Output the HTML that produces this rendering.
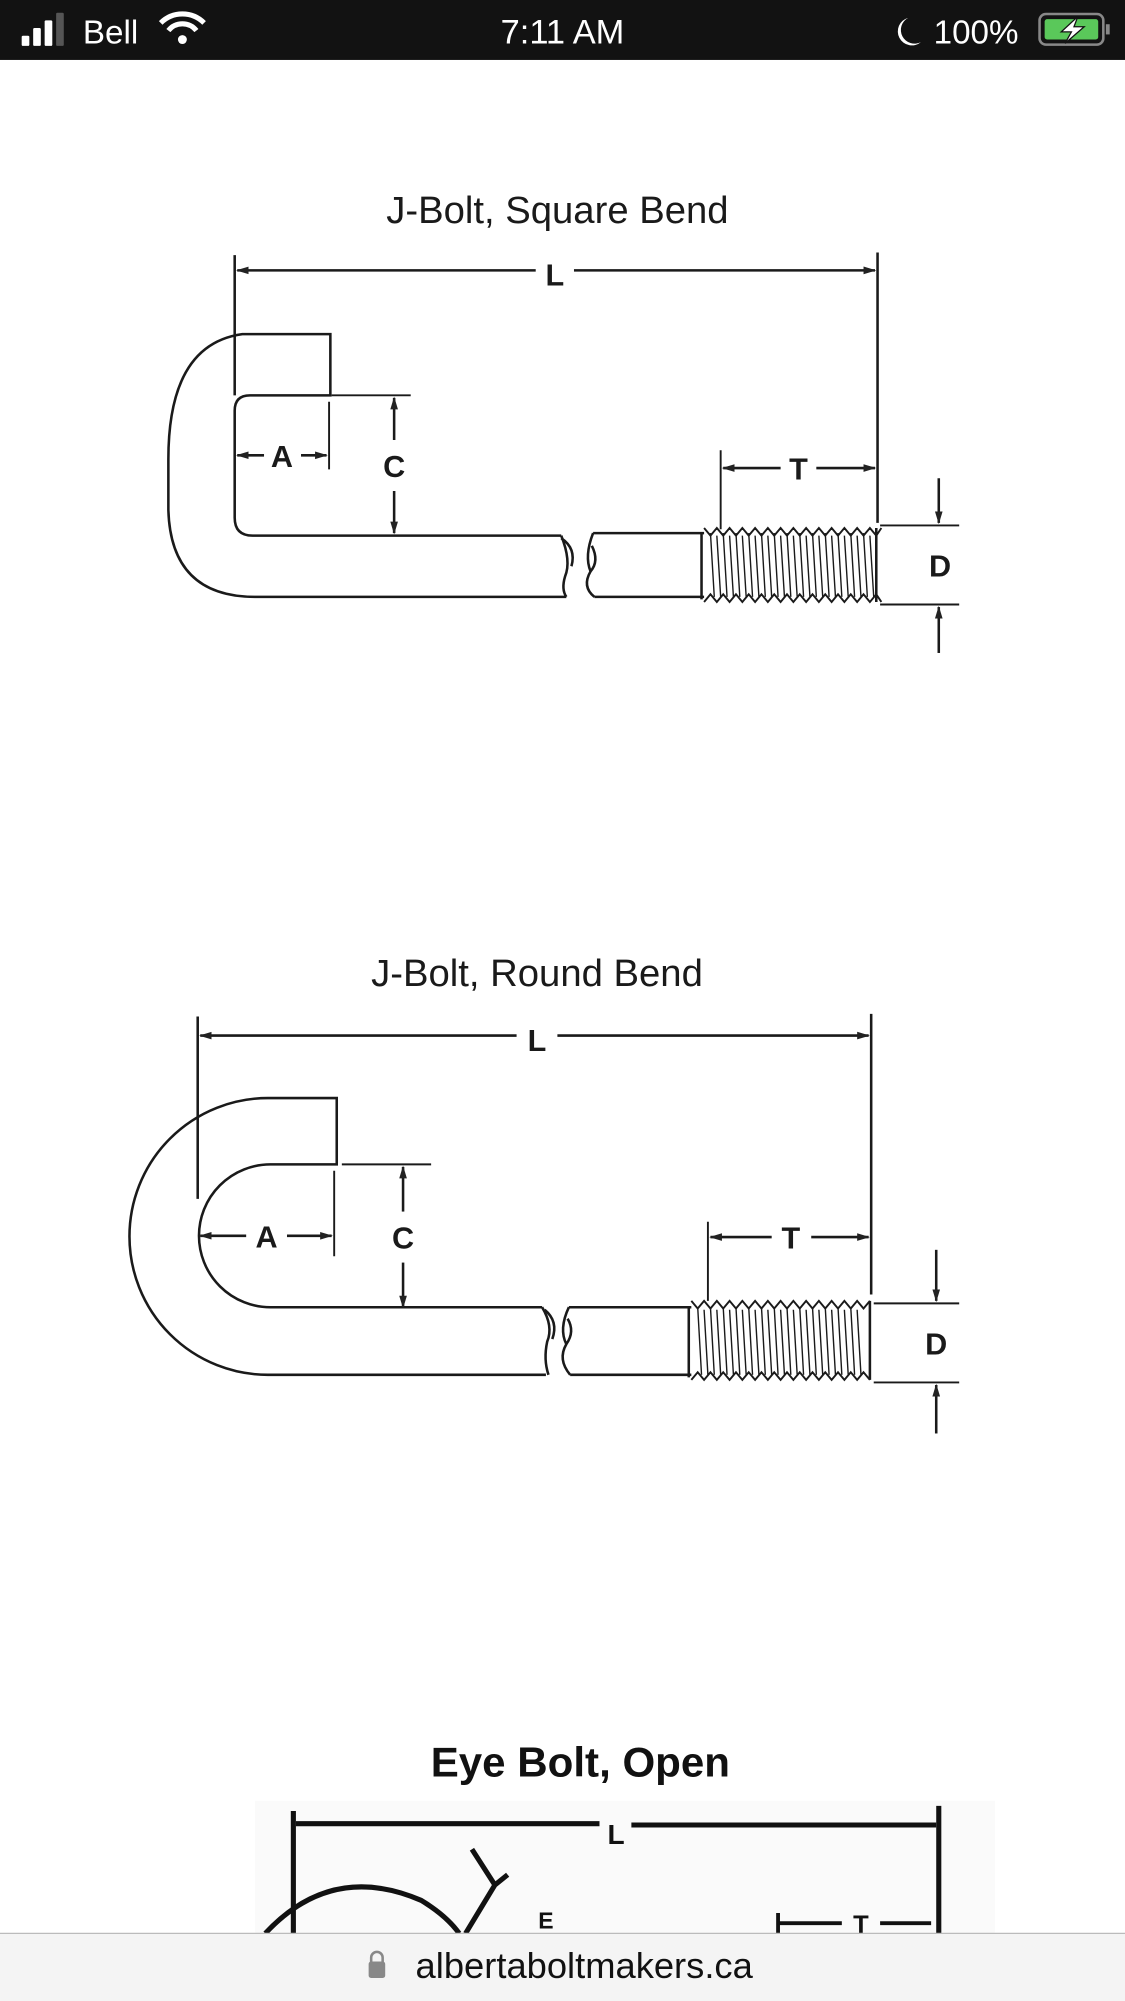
<!DOCTYPE html>
<html><head><meta charset="utf-8"><style>
html,body{margin:0;padding:0;background:#fff;width:1125px;height:2001px;overflow:hidden}
svg{display:block}
text{font-family:"Liberation Sans",sans-serif}
</style></head><body>
<svg width="1125" height="2001" viewBox="0 0 882 1569" preserveAspectRatio="none">
<defs>
<marker id="ar" markerWidth="10" markerHeight="8" refX="9" refY="4" orient="auto" markerUnits="userSpaceOnUse"><path d="M0,1 L10,4 L0,7 z" fill="#222"/></marker>
</defs>
<rect width="882" height="1569" fill="#fff"/>
<!-- status bar -->
<rect x="0" y="0" width="882" height="47" fill="#121212"/>
<rect x="17" y="28" width="6" height="8" rx="1" fill="#fff"/>
<rect x="26" y="22" width="6" height="14" rx="1" fill="#fff"/>
<rect x="35" y="16" width="6" height="20" rx="1" fill="#fff"/>
<rect x="44" y="10" width="6" height="26" rx="1" fill="#555"/>
<text x="65" y="34" font-size="26" fill="#fff">Bell</text>
<path d="M126,18 A24,24 0 0 1 160,18 M132,24 A14,14 0 0 1 154,24" stroke="#fff" stroke-width="4" fill="none"/>
<circle cx="143" cy="31" r="3.5" fill="#fff"/>
<text x="441" y="34" font-size="27" fill="#fff" text-anchor="middle">7:11 AM</text>
<path d="M712,14 A11,11 0 1 0 722,33 A10,10 0 0 1 712,14 z" fill="#fff"/>
<text x="732" y="34" font-size="26" fill="#fff">100%</text>
<rect x="815" y="11" width="50" height="24" rx="5" fill="none" stroke="#888" stroke-width="2"/>
<rect x="819" y="15" width="42" height="16" rx="2" fill="#5ac85a"/>
<rect x="867" y="19" width="3" height="8" fill="#888"/>
<path d="M845,13 L832,25 L840,25 L835,34 L850,21 L842,21 z" fill="#fff" stroke="#121212" stroke-width="1"/>

<g stroke="#1a1a1a" stroke-width="2" fill="none">
<!-- ===== Diagram 1 ===== -->
<line x1="184" y1="200" x2="184" y2="310"/>
<line x1="688" y1="198" x2="688" y2="410"/>
<line x1="420" y1="212" x2="186" y2="212" marker-end="url(#ar)"/>
<line x1="450" y1="212" x2="686" y2="212" marker-end="url(#ar)"/>
<path d="M440,420 L198,420 Q184,420 184,406 L184,322 Q184,310 196,310 L259,310 L259,262 L190,262 Q132,270 132,360 L132,400 Q134,468 200,468 L444,468"/>
<path d="M440,420 Q448,440 443,452 Q440,462 444,468"/>
<path d="M440,422 Q452,430 448,444"/>
<path d="M465,418 Q458,436 463,448 Q456,460 466,468 M463,448 Q470,440 464,428"/>
<line x1="465" y1="418" x2="552" y2="418"/>
<line x1="466" y1="468" x2="552" y2="468"/>
<path d="M550,418 L550,470"/>
<path d="M552,414 l5,6 l5,-6 l5,6 l5,-6 l5,6 l5,-6 l5,6 l5,-6 l5,6 l5,-6 l5,6 l5,-6 l5,6 l5,-6 l5,6 l5,-6 l5,6 l5,-6 l5,6 l5,-6 l5,6 l5,-6 l5,6 l5,-6 l5,6 l5,-6 l5,6 l4,-6" stroke-width="1.5"/>
<path d="M552,472 l5,-6 l5,6 l5,-6 l5,6 l5,-6 l5,6 l5,-6 l5,6 l5,-6 l5,6 l5,-6 l5,6 l5,-6 l5,6 l5,-6 l5,6 l5,-6 l5,6 l5,-6 l5,6 l5,-6 l5,6 l5,-6 l5,6 l5,-6 l5,6 l5,-6 l4,6" stroke-width="1.5"/>
<path d="M557,418 l3,50 M567,418 l3,50 M577,418 l3,50 M587,418 l3,50 M597,418 l3,50 M607,418 l3,50 M617,418 l3,50 M627,418 l3,50 M637,418 l3,50 M647,418 l3,50 M657,418 l3,50 M667,418 l3,50 M677,418 l3,50 M562,420 l3,48 M572,420 l3,48 M582,420 l3,48 M592,420 l3,48 M602,420 l3,48 M612,420 l3,48 M622,420 l3,48 M632,420 l3,48 M642,420 l3,48 M652,420 l3,48 M662,420 l3,48 M672,420 l3,48 M682,420 l3,48" stroke-width="1.1"/>
<line x1="687" y1="414" x2="687" y2="472"/>
<line x1="258" y1="315" x2="258" y2="368" stroke-width="1.5"/>
<line x1="207" y1="357" x2="186" y2="357" marker-end="url(#ar)"/>
<line x1="236" y1="357" x2="256" y2="357" marker-end="url(#ar)"/>
<line x1="260" y1="310" x2="322" y2="310" stroke-width="1.5"/>
<line x1="309" y1="345" x2="309" y2="312" marker-end="url(#ar)"/>
<line x1="309" y1="385" x2="309" y2="418" marker-end="url(#ar)"/>
<line x1="565" y1="353" x2="565" y2="415" stroke-width="1.5"/>
<line x1="612" y1="367" x2="567" y2="367" marker-end="url(#ar)"/>
<line x1="640" y1="367" x2="686" y2="367" marker-end="url(#ar)"/>
<line x1="690" y1="412" x2="752" y2="412" stroke-width="1.5"/>
<line x1="690" y1="474" x2="752" y2="474" stroke-width="1.5"/>
<line x1="736" y1="375" x2="736" y2="410" marker-end="url(#ar)"/>
<line x1="736" y1="512" x2="736" y2="476" marker-end="url(#ar)"/>

<!-- ===== Diagram 2 ===== -->
<line x1="155" y1="797" x2="155" y2="940"/>
<line x1="683" y1="795" x2="683" y2="1015"/>
<line x1="405" y1="812" x2="157" y2="812" marker-end="url(#ar)"/>
<line x1="437" y1="812" x2="681" y2="812" marker-end="url(#ar)"/>
<path d="M425,1025 L212,1025 A56,56 0 0 1 212,913 L264,913 L264,861 L210,861 A108,108 0 0 0 210,1078 L428,1078"/>
<path d="M425,1025 Q434,1040 429,1052 Q426,1066 430,1078"/>
<path d="M427,1027 Q438,1036 433,1050"/>
<path d="M446,1025 Q438,1042 444,1054 Q437,1066 447,1078 M444,1054 Q451,1044 445,1034"/>
<line x1="446" y1="1025" x2="542" y2="1025"/>
<line x1="447" y1="1078" x2="542" y2="1078"/>
<path d="M540,1025 L540,1080"/>
<path d="M542,1020 l5,6 l5,-6 l5,6 l5,-6 l5,6 l5,-6 l5,6 l5,-6 l5,6 l5,-6 l5,6 l5,-6 l5,6 l5,-6 l5,6 l5,-6 l5,6 l5,-6 l5,6 l5,-6 l5,6 l5,-6 l5,6 l5,-6 l5,6 l5,-6 l5,6 l5,-6" stroke-width="1.5"/>
<path d="M542,1082 l5,-6 l5,6 l5,-6 l5,6 l5,-6 l5,6 l5,-6 l5,6 l5,-6 l5,6 l5,-6 l5,6 l5,-6 l5,6 l5,-6 l5,6 l5,-6 l5,6 l5,-6 l5,6 l5,-6 l5,6 l5,-6 l5,6 l5,-6 l5,6 l5,-6 l5,6" stroke-width="1.5"/>
<path d="M547,1025 l3,53 M557,1025 l3,53 M567,1025 l3,53 M577,1025 l3,53 M587,1025 l3,53 M597,1025 l3,53 M607,1025 l3,53 M617,1025 l3,53 M627,1025 l3,53 M637,1025 l3,53 M647,1025 l3,53 M657,1025 l3,53 M667,1025 l3,53 M552,1027 l3,51 M562,1027 l3,51 M572,1027 l3,51 M582,1027 l3,51 M592,1027 l3,51 M602,1027 l3,51 M612,1027 l3,51 M622,1027 l3,51 M632,1027 l3,51 M642,1027 l3,51 M652,1027 l3,51 M662,1027 l3,51 M672,1027 l3,51" stroke-width="1.1"/>
<line x1="682" y1="1020" x2="682" y2="1082"/>
<line x1="262" y1="918" x2="262" y2="985" stroke-width="1.5"/>
<line x1="193" y1="969" x2="157" y2="969" marker-end="url(#ar)"/>
<line x1="225" y1="969" x2="260" y2="969" marker-end="url(#ar)"/>
<line x1="268" y1="913" x2="338" y2="913" stroke-width="1.5"/>
<line x1="316" y1="950" x2="316" y2="915" marker-end="url(#ar)"/>
<line x1="316" y1="990" x2="316" y2="1025" marker-end="url(#ar)"/>
<line x1="555" y1="958" x2="555" y2="1020" stroke-width="1.5"/>
<line x1="605" y1="970" x2="557" y2="970" marker-end="url(#ar)"/>
<line x1="636" y1="970" x2="681" y2="970" marker-end="url(#ar)"/>
<line x1="685" y1="1022" x2="752" y2="1022" stroke-width="1.5"/>
<line x1="685" y1="1084" x2="752" y2="1084" stroke-width="1.5"/>
<line x1="734" y1="980" x2="734" y2="1020" marker-end="url(#ar)"/>
<line x1="734" y1="1124" x2="734" y2="1086" marker-end="url(#ar)"/>
</g>

<g fill="#1a1a1a" font-weight="bold" font-size="24" text-anchor="middle">
<text x="435" y="224">L</text>
<text x="221" y="366">A</text>
<text x="309" y="374">C</text>
<text x="626" y="376">T</text>
<text x="737" y="452">D</text>
<text x="421" y="824">L</text>
<text x="209" y="978">A</text>
<text x="316" y="979">C</text>
<text x="620" y="979">T</text>
<text x="734" y="1062">D</text>
</g>
<text x="437" y="175" font-size="30" fill="#1a1a1a" text-anchor="middle">J-Bolt, Square Bend</text>
<text x="421" y="773" font-size="30" fill="#1a1a1a" text-anchor="middle">J-Bolt, Round Bend</text>

<!-- Eye bolt -->
<text x="455" y="1393" font-size="33" font-weight="bold" fill="#111" text-anchor="middle">Eye Bolt, Open</text>
<rect x="200" y="1412" width="580" height="104" fill="#fafafa"/>
<g stroke="#111" stroke-width="4" fill="none">
<line x1="230" y1="1420" x2="230" y2="1516"/>
<line x1="736" y1="1416" x2="736" y2="1516"/>
<line x1="232" y1="1430" x2="470" y2="1430"/>
<line x1="495" y1="1431" x2="734" y2="1431"/>
<path d="M208,1516 Q260,1460 330,1490 Q350,1502 360,1516"/>
<path d="M370,1450 L388,1478 L398,1470 M388,1478 L365,1516"/>
<line x1="610" y1="1508" x2="660" y2="1508" stroke-width="3"/>
<line x1="690" y1="1508" x2="730" y2="1508" stroke-width="3"/>
<line x1="610" y1="1500" x2="610" y2="1516" stroke-width="3"/>
</g>
<text x="483" y="1446" font-size="22" font-weight="bold" fill="#111" text-anchor="middle">L</text>
<text x="422" y="1512" font-size="18" font-weight="bold" fill="#111">E</text>
<text x="675" y="1516" font-size="20" font-weight="bold" fill="#111" text-anchor="middle">T</text>

<!-- bottom bar -->
<rect x="0" y="1516" width="882" height="53" fill="#f4f4f4"/>
<line x1="0" y1="1516" x2="882" y2="1516" stroke="#bbb" stroke-width="1"/>
<rect x="289" y="1538" width="13" height="13" rx="2" fill="#888"/>
<path d="M291,1539 v-4 a4.5,4.5 0 0 1 9,0 v4" stroke="#888" stroke-width="2" fill="none"/>
<text x="458" y="1551" font-size="28.5" fill="#111" text-anchor="middle">albertaboltmakers.ca</text>
</svg>
</body></html>
